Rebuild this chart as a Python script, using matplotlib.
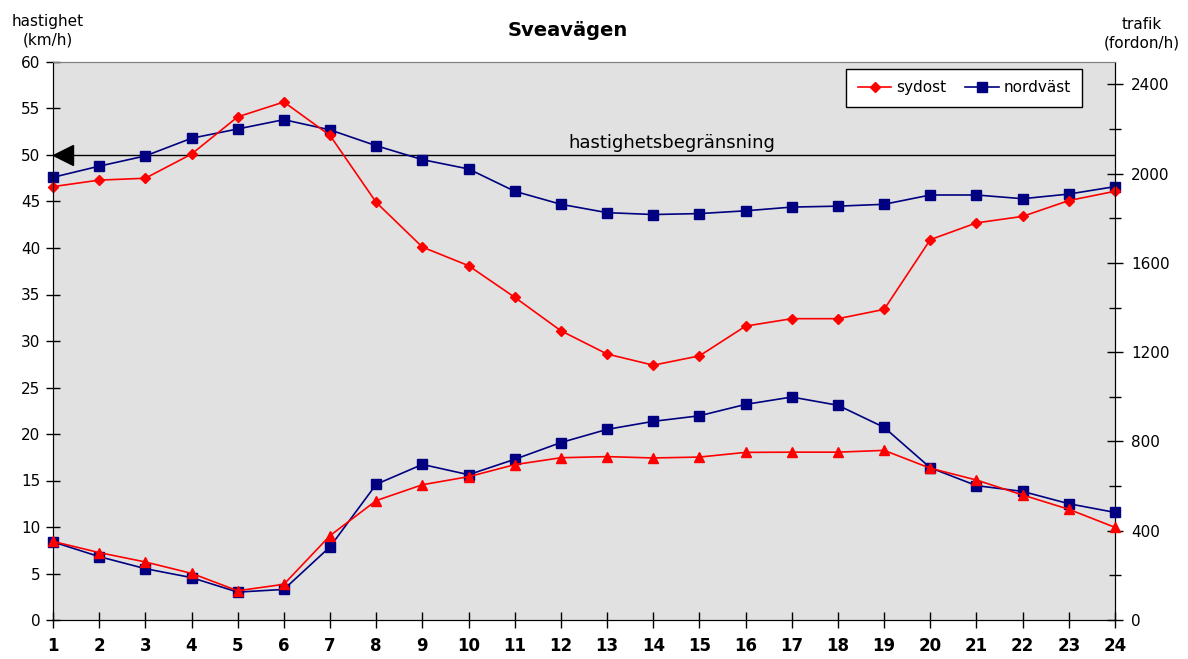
"""
Sveavägen: hastighet och trafikflöde per timme, båda riktningarna.
Hastighet på vänster axel, trafik (fordon/h) på höger axel.
"""
import matplotlib
matplotlib.use("Agg")
import matplotlib.pyplot as plt
from matplotlib.ticker import MultipleLocator

timmar = list(range(1, 25))

# hastighet (km/h)
hast_sydost = [46.6, 47.3, 47.5, 50.1, 54.1, 55.7, 52.1, 44.9, 40.1, 38.1, 34.7, 31.1,
               28.6, 27.4, 28.4, 31.6, 32.4, 32.4, 33.4, 40.9, 42.7, 43.4, 45.1, 46.1]
hast_nordvast = [47.6, 48.8, 49.9, 51.8, 52.8, 53.8, 52.7, 51.0, 49.5, 48.5, 46.1, 44.7,
                 43.8, 43.6, 43.7, 44.0, 44.4, 44.5, 44.7, 45.7, 45.7, 45.3, 45.8, 46.6]

# trafik (fordon/h)
trafik_sydost = [352, 302, 260, 209, 131, 160, 378, 535, 606, 642, 696, 727,
                 732, 726, 730, 751, 752, 752, 760, 680, 627, 560, 496, 415]
trafik_nordvast = [350, 284, 230, 190, 125, 137, 328, 608, 697, 651, 720, 795,
                   854, 890, 915, 966, 999, 962, 863, 682, 602, 576, 521, 482]

grans = 50
ROD = "#ff0000"
BLA = "#000080"

fig = plt.figure(figsize=(11.88, 6.59), dpi=100)
ax = fig.add_axes([53 / 1188, 39 / 659, 1062 / 1188, 558 / 659])
ax.set_facecolor("#e1e1e1")

# hastighetsgräns
ax.axhline(grans, color="black", lw=1.0, zorder=2)
ax.plot([1.22], [grans], marker="<", color="black", ms=14, clip_on=False, zorder=5)
ax.text(14.4, grans + 0.3, "hastighetsbegränsning", ha="center", va="bottom", fontsize=13)

l1, = ax.plot(timmar, hast_sydost, color=ROD, lw=1.2, marker="D", ms=5.5,
              clip_on=False, zorder=4, label="sydost")
l2, = ax.plot(timmar, hast_nordvast, color=BLA, lw=1.2, marker="s", ms=7,
              clip_on=False, zorder=3, label="nordväst")

ax.set_xlim(1, 24)
ax.set_ylim(0, 60)
ax.set_xticks(timmar)
ax.set_xticklabels([str(t) for t in timmar], fontweight="bold", fontsize=12)
ax.yaxis.set_major_locator(MultipleLocator(5))
ax.tick_params(axis="y", direction="inout", length=10, width=1, labelsize=11, pad=4)
ax.tick_params(axis="x", direction="inout", length=12, width=1, pad=6)

ax2 = ax.twinx()
ax2.plot(timmar, trafik_sydost, color=ROD, lw=1.2, marker="^", ms=7,
         clip_on=False, zorder=4)
ax2.plot(timmar, trafik_nordvast, color=BLA, lw=1.2, marker="s", ms=7,
         clip_on=False, zorder=3)
ax2.set_ylim(0, 2500)
ax2.yaxis.set_major_locator(MultipleLocator(400))
ax2.yaxis.set_minor_locator(MultipleLocator(200))
ax2.tick_params(axis="y", which="major", direction="inout", length=11, width=1,
                labelsize=11, pad=6)
ax2.tick_params(axis="y", which="minor", direction="inout", length=8, width=1)

for a in (ax, ax2):
    a.spines["top"].set_color("#808080")
    for s in ("left", "right", "bottom"):
        a.spines[s].set_color("black")

leg = ax2.legend([l1, l2], ["sydost", "nordväst"], loc="upper right",
                 bbox_to_anchor=(0.969, 0.9875), borderaxespad=0, ncol=2,
                 fontsize=11, fancybox=False, framealpha=1, edgecolor="black",
                 handlelength=2.2, columnspacing=1.25, handletextpad=0.3,
                 borderpad=0.75)
leg.get_frame().set_linewidth(1.0)

fig.text(0.478, 0.953, "Sveavägen", ha="center", va="center", fontsize=14,
         fontweight="bold")
fig.text(48 / 1188, 1 - 31 / 659, "hastighet\n(km/h)", ha="center", va="center",
         fontsize=11, linespacing=1.3)
fig.text(1142 / 1188, 1 - 34 / 659, "trafik\n(fordon/h)", ha="center", va="center",
         fontsize=11, linespacing=1.3)

fig.savefig("out.png", dpi=100)
